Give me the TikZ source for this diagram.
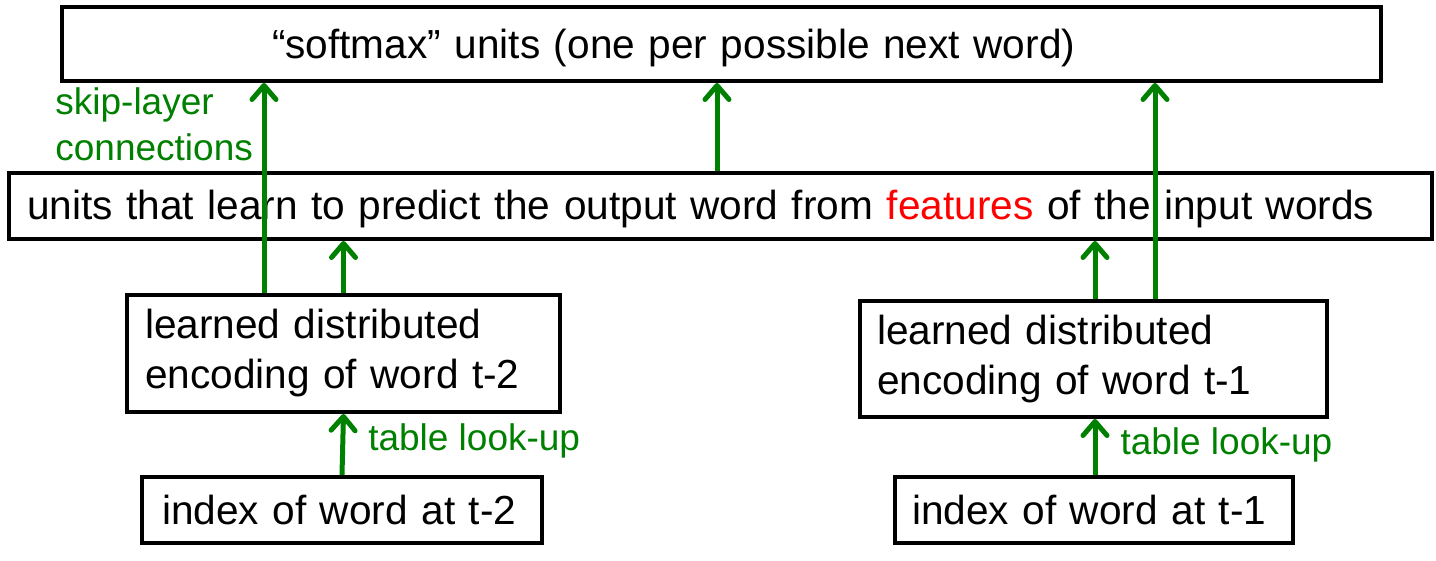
\documentclass[tikz,border=0pt]{standalone}
\usepackage{fontspec}
\setmainfont{Liberation Sans}
\usepackage{xcolor}
\usepackage{tikz}
\usetikzlibrary{arrows.meta,positioning}
\definecolor{NetGreen}{HTML}{008000}
\definecolor{NetRed}{HTML}{FF0000}
\definecolor{NetInk}{HTML}{000000}
\newcommand{\boxfont}{\fontsize{20.3}{25}\selectfont}
\newcommand{\lblfont}{\fontsize{18.5}{23}\selectfont}
\tikzset{
  >={Straight Barb[length=7pt,width=12pt,round]},
  flow/.style={->,line width=2.5pt,draw=NetGreen},
  box/.style={draw=NetInk,line width=2pt,align=left,inner ysep=0pt,
    font=\boxfont,text=NetInk},
  lbl/.style={font=\lblfont,text=NetGreen,align=left,inner sep=0pt}
}
\begin{document}
\begin{tikzpicture}[x=0.5pt,y=-0.5pt]
  \useasboundingbox (0,0) rectangle (1436,561);
  % output and hidden layers
  \node[box,text width=449.5pt,inner xsep=105pt,minimum height=37pt,text height=20pt,text depth=5pt] (softmax) at (721.5,44)
    {“softmax” units (one per possible next word)};
  \node[box,text width=693.5pt,inner xsep=9pt,minimum height=33pt,text height=19pt,text depth=5pt] (hidden) at (720.5,206)
    {units that learn to predict the output word from \textcolor{NetRed}{features} of the input words};
  % word encodings
  \node[box,text width=198.5pt,inner xsep=9pt,minimum height=58.5pt] (enc2) at (343.5,353.5)
    {learned distributed\\encoding of word t-2};
  \node[box,text width=216.5pt,inner xsep=8.5pt,minimum height=58pt] (enc1) at (1093.5,359)
    {learned distributed\\encoding of word t-1};
  % word indices
  \node[box,text width=180pt,inner xsep=10pt,minimum height=33pt] (idx2) at (342,510)
    {index of word at t-2};
  \node[box,text width=182pt,inner xsep=8.5pt,minimum height=33pt] (idx1) at (1094,510)
    {index of word at t-1};
  \node[lbl,anchor=west] (skiplbl) at (55,124) {skip-layer\\connections};
  % connections
  \draw[flow] (idx2.north) -- node[lbl,anchor=west,xshift=11.5pt,yshift=2pt] (look2) {table look-up} (enc2.south);
  \draw[flow] ([xshift=0.5pt]idx1.north) -- node[lbl,anchor=west,xshift=11.5pt,yshift=1pt] (look1) {table look-up} ([xshift=0.5pt]idx1.north |- enc1.south);
  \draw[flow] (enc2.north) -- (enc2.north |- hidden.south);
  \draw[flow] ([xshift=0.75pt]enc1.north) -- ([xshift=0.75pt]enc1.north |- hidden.south);
  \draw[flow] ([xshift=-39.75pt]enc2.north) -- ([xshift=-39.75pt]enc2.north |- softmax.south);
  \draw[flow] ([xshift=30.75pt]enc1.north) -- ([xshift=30.75pt]enc1.north |- softmax.south);
  \draw[flow] ([xshift=-1.75pt]hidden.north) -- ([xshift=-1.75pt]hidden.north |- softmax.south);
\end{tikzpicture}
\end{document}
